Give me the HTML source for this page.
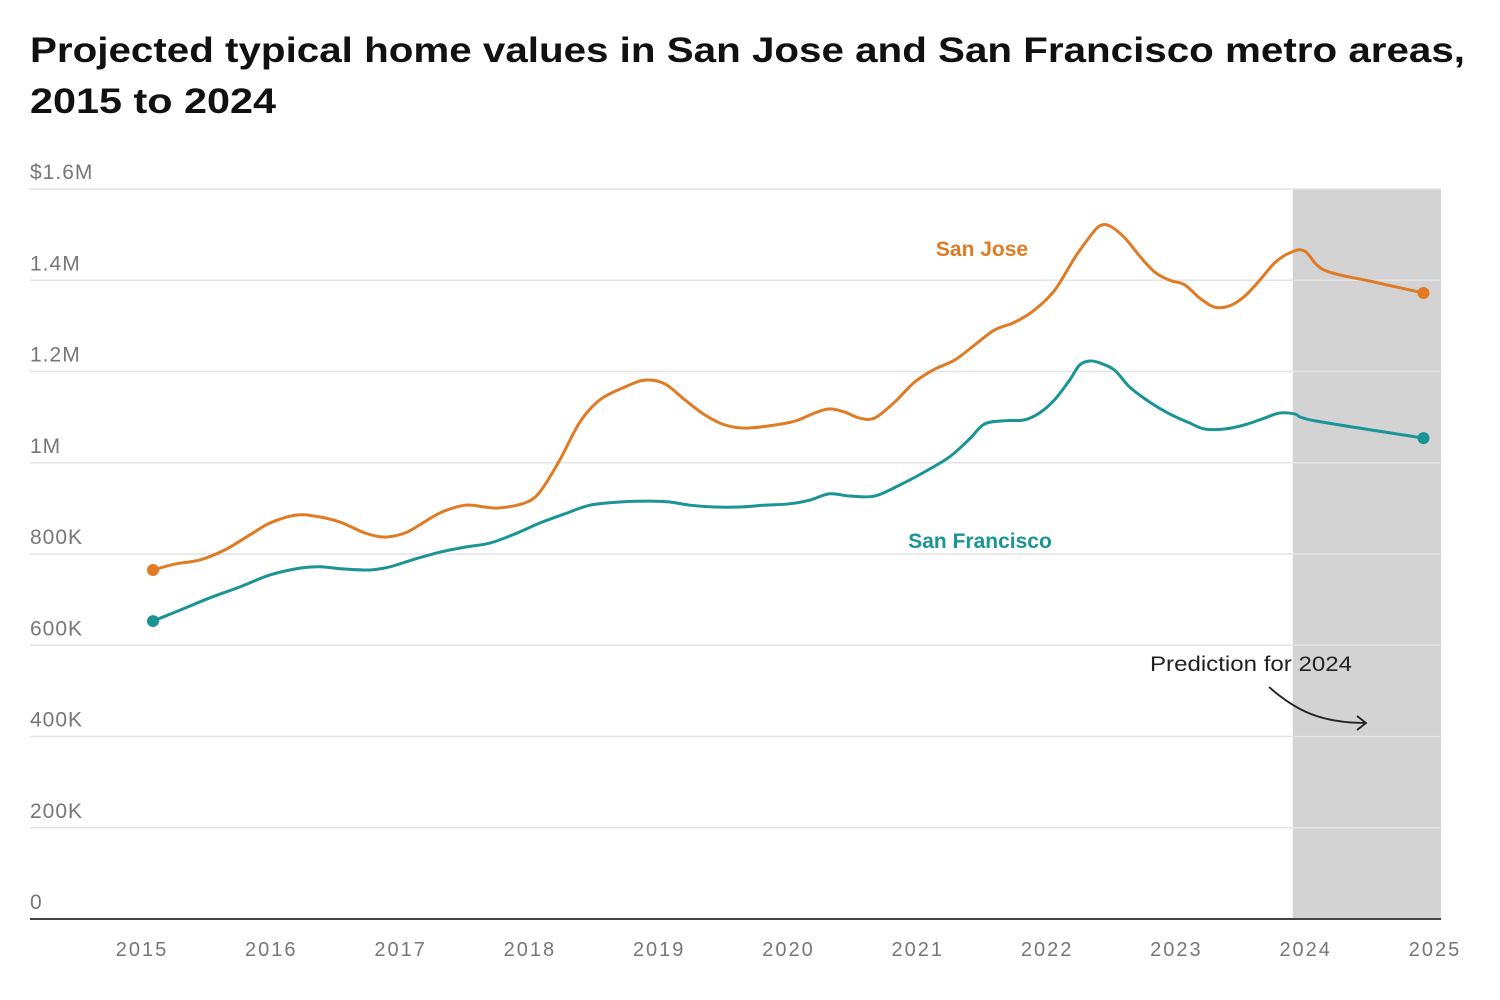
<!DOCTYPE html>
<html><head><meta charset="utf-8"><style>
body{margin:0;background:#fff;}
svg{display:block;font-family:"Liberation Sans",sans-serif;}
</style></head><body>
<svg id="chart" width="1500" height="1000">
<text x="30" y="62" font-size="35" font-weight="bold" fill="#111" textLength="1435" lengthAdjust="spacingAndGlyphs">Projected typical home values in San Jose and San Francisco metro areas,</text>
<text x="30" y="113" font-size="35" font-weight="bold" fill="#111" textLength="246" lengthAdjust="spacingAndGlyphs">2015 to 2024</text>
<g id="plot"></g>
</svg>
<script>
const yTicks=[0,200000,400000,600000,800000,1000000,1200000,1400000,1600000];
const yTickLabels=["0","200K","400K","600K","800K","1M","1.2M","1.4M","$1.6M"];
const xTicks=[2015,2016,2017,2018,2019,2020,2021,2022,2023,2024,2025];
const predictionStart=2023.9;
const sjDates=[2015.085,2015.255,2015.448,2015.641,2015.835,2015.99,2016.183,2016.338,2016.531,2016.724,2016.879,2017.033,2017.149,2017.304,2017.497,2017.651,2017.767,2017.961,2018.077,2018.231,2018.386,2018.541,2018.734,2018.889,2019.043,2019.198,2019.352,2019.507,2019.662,2019.855,2020.048,2020.202,2020.318,2020.434,2020.55,2020.666,2020.821,2020.976,2021.13,2021.285,2021.439,2021.594,2021.749,2021.903,2022.058,2022.213,2022.329,2022.406,2022.484,2022.6,2022.716,2022.832,2022.948,2023.064,2023.18,2023.296,2023.412,2023.528,2023.644,2023.76,2023.876,2023.992,2024.146,2024.532,2024.911];
const sjValues=[765,778,787,809,842,868,885,883,870,846,837,846,864,890,907,903,901,912,936,1006,1089,1138,1166,1181,1173,1138,1105,1083,1076,1081,1091,1109,1118,1111,1098,1098,1133,1177,1205,1225,1258,1291,1308,1335,1378,1449,1495,1519,1519,1493,1453,1418,1400,1390,1361,1341,1344,1365,1400,1438,1460,1464,1422,1396,1372];
const sfDates=[2015.085,2015.294,2015.526,2015.758,2015.99,2016.222,2016.376,2016.57,2016.763,2016.918,2017.111,2017.304,2017.497,2017.691,2017.884,2018.077,2018.27,2018.464,2018.696,2018.928,2019.082,2019.237,2019.43,2019.623,2019.817,2020.01,2020.164,2020.318,2020.473,2020.666,2020.859,2021.053,2021.246,2021.4,2021.516,2021.671,2021.825,2021.941,2022.058,2022.174,2022.251,2022.329,2022.406,2022.522,2022.638,2022.793,2022.948,2023.103,2023.218,2023.373,2023.528,2023.683,2023.799,2023.915,2024.07,2024.911];
const sfValues=[653,677,704,728,754,769,772,767,765,772,789,804,815,824,844,868,888,907,914,916,914,907,903,903,907,910,918,932,927,927,951,980,1013,1052,1085,1092,1094,1109,1138,1181,1214,1223,1219,1203,1166,1133,1107,1087,1074,1074,1083,1098,1109,1107,1092,1054];

const X0=30,X1=1441,Y0=919,YTOP=189;
const xScale=d=>142+(d-2015)*129.3;
const yScale=v=>Y0-(v/1600000)*(Y0-YTOP);
const NS="http://www.w3.org/2000/svg";
const plot=document.getElementById('plot');
function mk(tag,attrs){const e=document.createElementNS(NS,tag);for(const k in attrs)e.setAttribute(k,attrs[k]);plot.appendChild(e);return e;}

let r=mk('rect',{x:xScale(predictionStart),y:YTOP,width:X1-xScale(predictionStart),height:Y0-YTOP,fill:'#d3d3d3'});



yTicks.forEach((v,i)=>{
  const y=yScale(v);
  if(v>0){const l=mk('line',{x1:X0,x2:X1,y1:y,y2:y,stroke:'#e4e4e4','stroke-width':1.5});
  
  }
  const t=mk('text',{x:X0,y:y-10,'font-size':21,fill:'#777','letter-spacing':'1'});
  t.textContent=yTickLabels[i];
  
  
});
let ax=mk('line',{x1:X0,x2:X1,y1:Y0,y2:Y0,stroke:'#444','stroke-width':2});


xTicks.forEach(d=>{
  const t=mk('text',{x:xScale(d),y:956,'font-size':20,fill:'#777','text-anchor':'middle','letter-spacing':'2'});
  t.textContent=String(d);
  
  
});

function smoothPath(pts){
  let d=`M${pts[0][0]},${pts[0][1]}`;
  for(let i=0;i<pts.length-1;i++){
    const p0=pts[Math.max(0,i-1)],p1=pts[i],p2=pts[i+1],p3=pts[Math.min(pts.length-1,i+2)];
    const c1x=p1[0]+(p2[0]-p0[0])/6,c1y=p1[1]+(p2[1]-p0[1])/6;
    const c2x=p2[0]-(p3[0]-p1[0])/6,c2y=p2[1]-(p3[1]-p1[1])/6;
    d+=`C${c1x},${c1y} ${c2x},${c2y} ${p2[0]},${p2[1]}`;
  }
  return d;
}
function series(dates,vals,color,name){
  const pts=dates.map((d,i)=>[xScale(d),yScale(vals[i]*1000)]);
  const p=mk('path',{d:smoothPath(pts),fill:'none',stroke:color,'stroke-width':3,'stroke-linejoin':'round'});
  
  
  [pts[0],pts[pts.length-1]].forEach(q=>{
    const c=mk('circle',{cx:q[0],cy:q[1],r:6,fill:color});
    
    
  });
}
series(sjDates,sjValues,'#e07b24','san-jose');
series(sfDates,sfValues,'#1a9494','san-francisco');

let t1=mk('text',{x:982,y:256,'font-size':21,'font-weight':'bold',fill:'#e07b24','text-anchor':'middle'});
t1.textContent='San Jose';


let t2=mk('text',{x:980,y:548,'font-size':21,'font-weight':'bold',fill:'#1a9494','text-anchor':'middle'});
t2.textContent='San Francisco';


let t3=mk('text',{x:1150,y:671,'font-size':21,fill:'#222',textLength:202,lengthAdjust:'spacingAndGlyphs'});
t3.textContent='Prediction for 2024';


let ar=mk('path',{d:'M1269,687 C1295,710 1320,723 1366,723 M1357,716 L1366,723 L1357,730',fill:'none',stroke:'#222','stroke-width':1.8});


</script>
</body></html>
